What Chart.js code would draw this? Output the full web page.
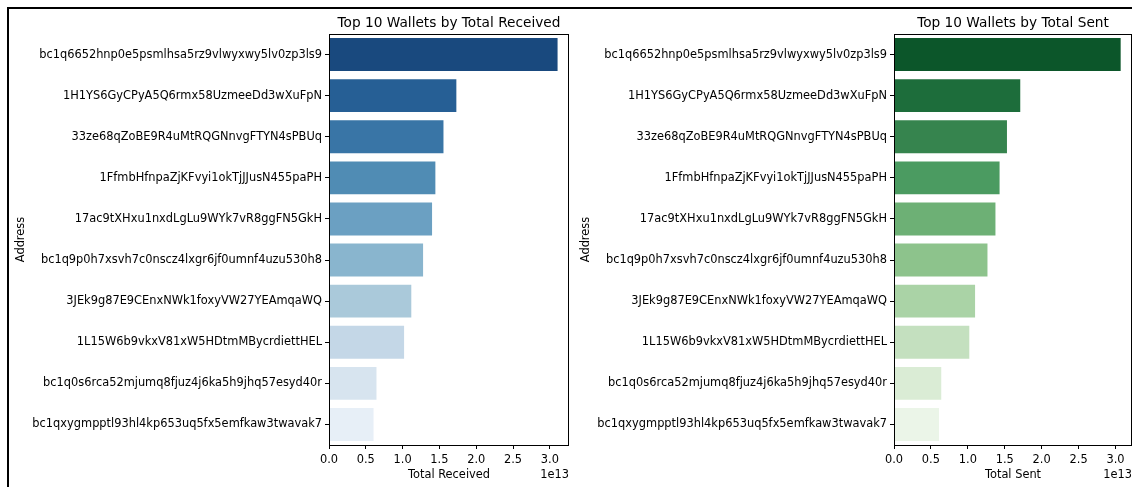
<!DOCTYPE html>
<html>
<head>
<meta charset="utf-8">
<script src="https://cdn.jsdelivr.net/npm/chart.js@4.4.1/dist/chart.umd.min.js"></script>
<style>
  html, body { margin: 0; padding: 0; background: #fff; overflow: hidden; }
  #figure { position: relative; width: 1132px; height: 487px; overflow: hidden; }
  #frame { position: absolute; left: 7px; top: 7px; width: 1300px; height: 700px; border: 2px solid #000; box-sizing: border-box; }
  canvas { position: absolute; top: 0; }
  #received { left: 0; }
  #sent { left: 565px; }
</style>
</head>
<body>
<div id="figure">
  <div id="frame"></div>
  <canvas id="received" width="580" height="487"></canvas>
  <canvas id="sent" width="567" height="487"></canvas>
</div>
<script>
// Wallet addresses (same ranking for both panels)
const addresses = [
  'bc1q6652hnp0e5psmlhsa5rz9vlwyxwy5lv0zp3ls9',
  '1H1YS6GyCPyA5Q6rmx58UzmeeDd3wXuFpN',
  '33ze68qZoBE9R4uMtRQGNnvgFTYN4sPBUq',
  '1FfmbHfnpaZjKFvyi1okTjJJusN455paPH',
  '17ac9tXHxu1nxdLgLu9WYk7vR8ggFN5GkH',
  'bc1q9p0h7xsvh7c0nscz4lxgr6jf0umnf4uzu530h8',
  '3JEk9g87E9CEnxNWk1foxyVW27YEAmqaWQ',
  '1L15W6b9vkxV81xW5HDtmMBycrdiettHEL',
  'bc1q0s6rca52mjumq8fjuz4j6ka5h9jhq57esyd40r',
  'bc1qxygmpptl93hl4kp653uq5fx5emfkaw3twavak7'
];

// Totals in base units
const totalReceived = [3.105e13, 1.73e13, 1.555e13, 1.445e13, 1.40e13, 1.278e13, 1.118e13, 1.02e13, 0.645e13, 0.605e13];
const totalSent     = [3.07e13, 1.71e13, 1.53e13, 1.43e13, 1.374e13, 1.266e13, 1.098e13, 1.02e13, 0.64e13, 0.61e13];

// X tick labels (in units of 1e13)
const xTicks = [0.0, 0.5, 1.0, 1.5, 2.0, 2.5, 3.0];
const xScaleExp = 1e13;

// Sequential colour ramps
const BLUES  = ['#f7fbff','#deebf7','#c6dbef','#9ecae1','#6baed6','#4292c6','#2171b5','#08519c','#08306b'];
const GREENS = ['#f7fcf5','#e5f5e0','#c7e9c0','#a1d99b','#74c476','#41ab5d','#238b45','#006d2c','#00441b'];

function hexToRgb(h) {
  return [parseInt(h.slice(1,3),16), parseInt(h.slice(3,5),16), parseInt(h.slice(5,7),16)];
}
function rampAt(stops, t) {
  const pos = t * (stops.length - 1);
  const i = Math.min(Math.floor(pos), stops.length - 2);
  const f = pos - i;
  const a = hexToRgb(stops[i]), b = hexToRgb(stops[i + 1]);
  return a.map((v, k) => v + (b[k] - v) * f);
}
function desaturate(rgb, prop) {
  const [r, g, b] = rgb.map(v => v / 255);
  const mx = Math.max(r, g, b), mn = Math.min(r, g, b);
  const l = (mx + mn) / 2;
  if (mx === mn) return rgb;
  const d = mx - mn;
  let s = l > 0.5 ? d / (2 - mx - mn) : d / (mx + mn);
  s *= prop;
  const c = (1 - Math.abs(2 * l - 1)) * s;
  const nmx = l + c / 2, nmn = l - c / 2;
  return [r, g, b].map(v => Math.round((nmn + (v - mn) / d * (nmx - nmn)) * 255));
}
function reversedPalette(stops, n) {
  const out = [];
  for (let i = 1; i <= n; i++) {
    const rgb = desaturate(rampAt(stops, i / (n + 1)), 0.75);
    out.push(`rgb(${rgb[0]},${rgb[1]},${rgb[2]})`);
  }
  return out.reverse();
}

const FONT = '"DejaVu Sans", sans-serif';
const tickFont = { family: FONT, size: 11.4 };

// Axes frame, centred title and exponent label
const axesDecor = {
  id: 'axesDecor',
  afterDraw(chart, args, opts) {
    const { ctx, chartArea: a } = chart;
    ctx.save();
    ctx.strokeStyle = '#000';
    ctx.lineWidth = 1;
    ctx.strokeRect(Math.round(a.left) + 0.5, Math.round(a.top) + 0.5,
                   Math.round(a.right - a.left) - 1, Math.round(a.bottom - a.top));
    ctx.fillStyle = '#000';
    ctx.font = `13.7px ${FONT}`;
    ctx.textAlign = 'center';
    ctx.textBaseline = 'alphabetic';
    ctx.fillText(opts.title, (a.left + a.right) / 2, a.top - 7);
    ctx.font = `11.4px ${FONT}`;
    ctx.textAlign = 'right';
    ctx.fillText(opts.offsetText, a.right, 478);
    ctx.restore();
  }
};

function makeChart(id, values, stops, title, xLabel, padRight) {
  return new Chart(document.getElementById(id), {
    type: 'bar',
    data: {
      labels: addresses,
      datasets: [{
        data: values,
        backgroundColor: reversedPalette(stops, values.length),
        borderWidth: 0,
        barPercentage: 0.8,
        categoryPercentage: 1.0
      }]
    },
    options: {
      indexAxis: 'y',
      responsive: false,
      animation: false,
      devicePixelRatio: 1,
      layout: { padding: { left: 14, right: padRight, top: 34, bottom: 0 } },
      plugins: {
        legend: { display: false },
        tooltip: { enabled: false },
        axesDecor: { title: title, offsetText: '1e13' }
      },
      scales: {
        x: {
          type: 'linear',
          min: 0,
          max: values[0] * 1.05,
          afterBuildTicks: s => { s.ticks = xTicks.map(v => ({ value: v * xScaleExp })); },
          afterFit: s => { s.height = 42; },
          ticks: {
            font: tickFont, color: '#000', padding: 4,
            maxRotation: 0, autoSkip: false,
            callback: v => (v / xScaleExp).toFixed(1)
          },
          grid: { display: true, drawOnChartArea: false, drawTicks: true, tickLength: 4, color: '#000', lineWidth: 1 },
          border: { display: false },
          title: { display: true, text: xLabel, font: tickFont, color: '#000', padding: { top: 0, bottom: 5 } }
        },
        y: {
          afterFit: s => { s.width = 315; },
          ticks: { font: tickFont, color: '#000', padding: 3, autoSkip: false },
          grid: { display: true, offset: false, drawOnChartArea: false, drawTicks: true, tickLength: 4, color: '#000', lineWidth: 1 },
          border: { display: false },
          title: { display: true, text: 'Address', font: tickFont, color: '#000', padding: { top: 0, bottom: 0 } }
        }
      }
    },
    plugins: [axesDecor]
  });
}

makeChart('received', totalReceived, BLUES, 'Top 10 Wallets by Total Received', 'Total Received', 11);
makeChart('sent', totalSent, GREENS, 'Top 10 Wallets by Total Sent', 'Total Sent', 0);
</script>
</body>
</html>
